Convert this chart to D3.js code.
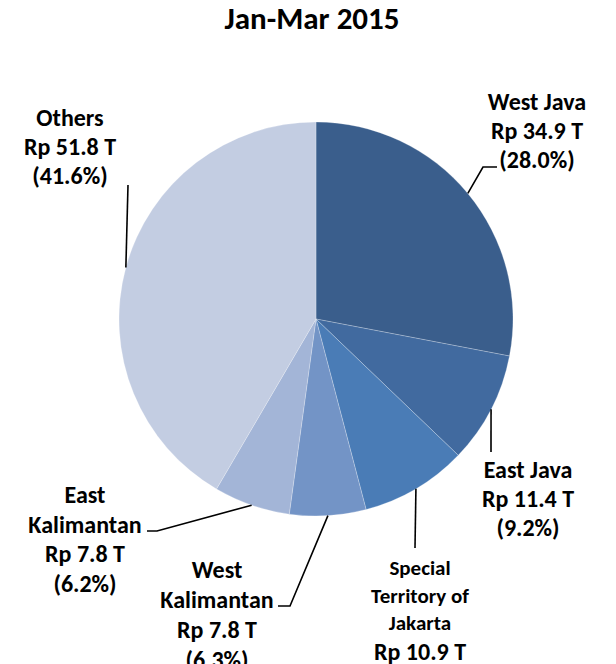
<!DOCTYPE html>
<html>
<head>
<meta charset="utf-8">
<script src="https://cdn.jsdelivr.net/npm/d3@7"></script>
<style>
  html, body { margin: 0; padding: 0; background: #fff; }
  svg { display: block; }
  text { font-family: Carlito, Calibri, Lato, "Open Sans", sans-serif; font-weight: bold; fill: #000; }
</style>
</head>
<body>
<svg id="chart" width="616" height="664"></svg>
<script>
// ---- data ----
const title = "Jan-Mar 2015";
const regions = ["West Java", "East Java", "Special Territory of Jakarta", "West Kalimantan", "East Kalimantan", "Others"];
const values = [34.9, 11.4, 10.9, 7.8, 7.8, 51.8];           // Rp trillion
const percents = ["28.0%", "9.2%", "8.7%", "6.3%", "6.2%", "41.6%"];
const nameLines = [["West Java"], ["East Java"], ["Special", "Territory of", "Jakarta"], ["West", "Kalimantan"], ["East", "Kalimantan"], ["Others"]];

// ---- styles / layout ----
const colors = ["#3a5e8c", "#416a9f", "#4a7cb6", "#7394c6", "#a3b5d7", "#c3cde2"];
const cx = 316, cy = 319, R = 197;
// x = text centre, y = baseline of first line, lh = line step
const labelLayout = [
  { x: 537, y: 110, lh: 29, fs: 24, path: [[483, 167], [497, 167]] },
  { x: 528, y: 478, lh: 29, fs: 24, path: [[491, 452]] },
  { x: 420, y: 575, lh: 27.5, fs: 21, fsLast: 24, path: [[415, 548]] },
  { x: 217, y: 578, lh: 30, fs: 24, path: [[290, 606], [278, 606]] },
  { x: 85,  y: 503, lh: 29.5, fs: 24, path: [[157, 531], [147, 531]] },
  { x: 70,  y: 126, lh: 29, fs: 24, path: [[128, 185]] }
];

const svg = d3.select("#chart");

svg.append("text")
  .attr("x", 312).attr("y", 29)
  .attr("text-anchor", "middle")
  .style("font-size", "31px")
  .text(title);

const pie = d3.pie().sort(null).value(d => d)(values);
const arc = d3.arc().innerRadius(0).outerRadius(R);
const edgeArc = d3.arc().innerRadius(R).outerRadius(R);

const g = svg.append("g").attr("transform", `translate(${cx},${cy})`);
g.selectAll("path.slice")
  .data(pie)
  .join("path")
  .attr("class", "slice")
  .attr("d", arc)
  .attr("fill", (d, i) => colors[i])
  .attr("stroke", "rgba(255,255,255,0.35)")
  .attr("stroke-width", 0.7);

const line = d3.line();
pie.forEach((d, i) => {
  const c = edgeArc.centroid(d);
  const start = [c[0] + cx, c[1] + cy];
  svg.append("path")
    .attr("d", line([start, ...labelLayout[i].path]))
    .attr("fill", "none")
    .attr("stroke", "#000")
    .attr("stroke-width", 1.6);
});

pie.forEach((d, i) => {
  const L = labelLayout[i];
  const lines = nameLines[i].concat(["Rp " + values[i].toFixed(1) + " T", "(" + percents[i] + ")"]);
  const t = svg.append("text").attr("text-anchor", "middle");
  lines.forEach((s, k) => {
    const isName = k < nameLines[i].length;
    let fs = L.fs;
    if (!isName && L.fsLast) fs = L.fsLast;
    t.append("tspan")
      .attr("x", L.x)
      .attr("y", L.y + k * L.lh + (!isName && L.fsLast ? 2 : 0))
      .style("font-size", fs + "px")
      .text(s);
  });
});
</script>
</body>
</html>
